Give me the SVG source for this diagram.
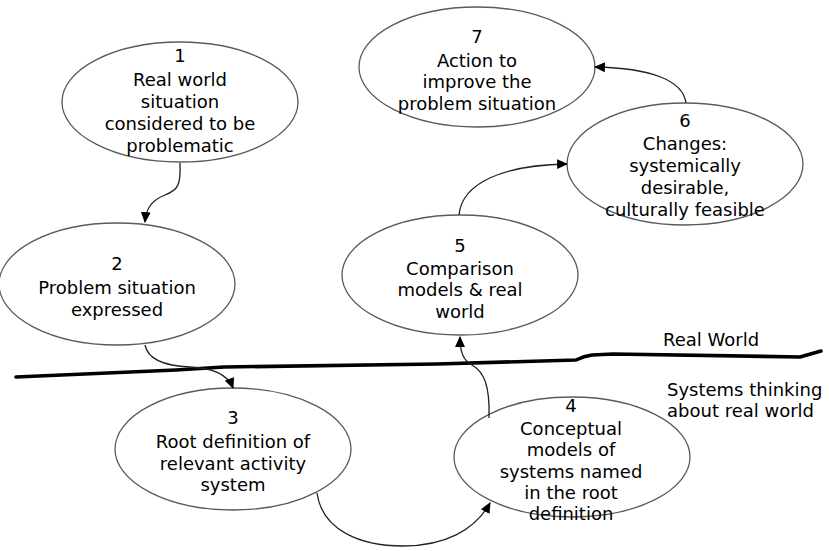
<svg xmlns="http://www.w3.org/2000/svg" width="829" height="551" viewBox="0 0 829 551">
  <style>
    .node ellipse { fill: #ffffff; stroke: #5a5a5a; stroke-width: 1.3; }
    .node text { font-family: "DejaVu Sans", Verdana, sans-serif; font-size: 18px; fill: #000; text-anchor: middle; }
    .conn path { fill: none; stroke: #222; stroke-width: 1.3; }
    .label { font-family: "DejaVu Sans", Verdana, sans-serif; font-size: 18px; fill: #000; }
    .boundary { fill: none; stroke: #000; stroke-width: 3.6; stroke-linejoin: round; stroke-linecap: round; }
  </style>
  <defs>
    <marker id="arrow" viewBox="0 0 10 10" refX="9" refY="5" markerWidth="11" markerHeight="11" markerUnits="userSpaceOnUse" orient="auto">
      <path d="M0,0.5 L10,5 L0,9.5 z" fill="#000"/>
    </marker>
  </defs>

  <rect width="829" height="551" fill="#ffffff"/>

  <!-- boundary between real world and systems thinking -->
  <path class="boundary" d="M16,377 L176,370 L224,367 L437,364 L576,360 Q584,356 592,355 L613,354 L800,357 L821,351"/>
  <text class="label" x="663" y="346">Real World</text>
  <text class="label" x="667" y="396">Systems thinking</text>
  <text class="label" x="667" y="417">about real world</text>

  <g id="node1" class="node">
    <ellipse cx="180" cy="102" rx="118" ry="60"/>
    <text x="180" y="62">1<tspan x="180" dy="24">Real world</tspan><tspan x="180" dy="22">situation</tspan><tspan x="180" dy="22">considered to be</tspan><tspan x="180" dy="22">problematic</tspan></text>
  </g>

  <g id="node2" class="node">
    <ellipse cx="117" cy="284" rx="118" ry="61"/>
    <text x="117" y="270">2<tspan x="117" dy="24">Problem situation</tspan><tspan x="117" dy="22">expressed</tspan></text>
  </g>

  <g id="node3" class="node">
    <ellipse cx="233" cy="449" rx="118" ry="61"/>
    <text x="233" y="424">3<tspan x="233" dy="24">Root definition of</tspan><tspan x="233" dy="22">relevant activity</tspan><tspan x="233" dy="21">system</tspan></text>
  </g>

  <g id="node4" class="node">
    <ellipse cx="572" cy="457" rx="118" ry="60"/>
    <text x="571" y="412">4<tspan x="571" dy="23">Conceptual</tspan><tspan x="571" dy="21">models of</tspan><tspan x="571" dy="21.5">systems named</tspan><tspan x="571" dy="21.5">in the root</tspan><tspan x="571" dy="21">definition</tspan></text>
  </g>

  <g id="node5" class="node">
    <ellipse cx="460" cy="275" rx="118" ry="60"/>
    <text x="460" y="252">5<tspan x="460" dy="23">Comparison</tspan><tspan x="460" dy="21">models &amp; real</tspan><tspan x="460" dy="22">world</tspan></text>
  </g>

  <g id="node6" class="node">
    <ellipse cx="685" cy="164" rx="118" ry="61"/>
    <text x="685" y="127">6<tspan x="685" dy="23">Changes:</tspan><tspan x="685" dy="22">systemically</tspan><tspan x="685" dy="22">desirable,</tspan><tspan x="685" dy="22">culturally feasible</tspan></text>
  </g>

  <g id="node7" class="node">
    <ellipse cx="477" cy="67" rx="118" ry="60"/>
    <text x="477" y="43">7<tspan x="477" dy="24">Action to</tspan><tspan x="477" dy="21">improve the</tspan><tspan x="477" dy="22">problem situation</tspan></text>
  </g>

  <g id="connectors" class="conn">
    <path d="M180,163 C181,185 178,190 165,195 C150,201 146,210 145,222" marker-end="url(#arrow)"/>
    <path d="M145,345 C148,360 165,366 190,367 C215,368 228,375 233,388" marker-end="url(#arrow)"/>
    <path d="M317,493 C322,530 360,546 403,546 C445,546 475,530 490,503" marker-end="url(#arrow)"/>
    <path d="M489,418 C490,385 484,372 472,365 C463,360 460,352 460,337" marker-end="url(#arrow)"/>
    <path d="M459,215 C462,182 505,165 567,164" marker-end="url(#arrow)"/>
    <path d="M686,103 C683,80 650,68 595,67" marker-end="url(#arrow)"/>
  </g>
</svg>
